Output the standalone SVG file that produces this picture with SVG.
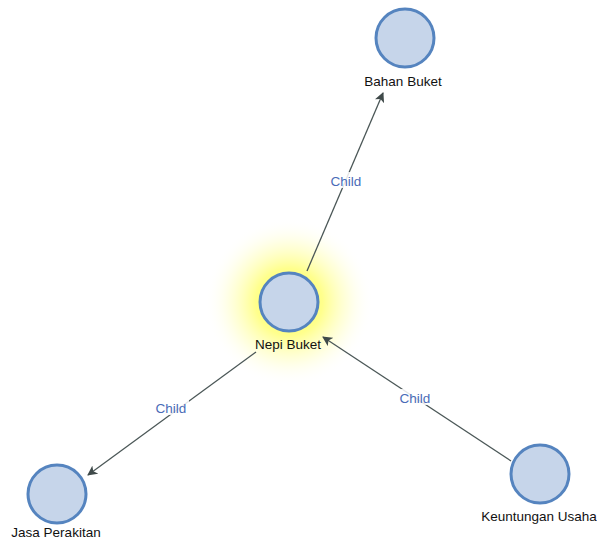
<svg xmlns="http://www.w3.org/2000/svg" width="597" height="540" viewBox="0 0 597 540">
<style>
.node circle{fill:#c6d5ea;stroke:#5584bf;stroke-width:3}
.lbl{font-family:"Liberation Sans",Arial,sans-serif;font-size:13.5px;fill:#111;text-anchor:middle}
.edge{stroke:#4b5757;stroke-width:1.3;fill:none;marker-end:url(#arr)}
.el{font-family:"Liberation Sans",Arial,sans-serif;font-size:13.5px;fill:#4a6cb8;text-anchor:middle}
</style>
<defs>
<marker id="arr" viewBox="0 0 10 10" refX="9" refY="5" markerWidth="10" markerHeight="10" markerUnits="userSpaceOnUse" orient="auto">
<path d="M0,0 L10,5 L0,10 L2.5,5 Z" fill="#3f4a4a"/>
</marker>
<radialGradient id="glow" cx="0.5" cy="0.5" r="0.5">
<stop offset="0" stop-color="#ffff50" stop-opacity="1"/>
<stop offset="0.4" stop-color="#ffff70" stop-opacity="0.8"/>
<stop offset="0.7" stop-color="#ffffb0" stop-opacity="0.4"/>
<stop offset="1" stop-color="#ffffff" stop-opacity="0"/>
</radialGradient>
</defs>
<rect width="597" height="540" fill="#fff"/>
<circle cx="289" cy="302" r="84" fill="url(#glow)"/>
<g id="connectors">
<line class="edge" x1="307" y1="271" x2="383" y2="93"/>
<line class="edge" x1="256" y1="352" x2="88" y2="475"/>
<line class="edge" x1="511" y1="461" x2="323" y2="337"/>
<rect x="328" y="172" width="36" height="16" fill="#fff" opacity="0.85"/>
<text class="el" x="346" y="186">Child</text>
<rect x="153" y="399" width="36" height="16" fill="#fff" opacity="0.85"/>
<text class="el" x="171" y="413">Child</text>
<rect x="397" y="389" width="36" height="16" fill="#fff" opacity="0.85"/>
<text class="el" x="415" y="403">Child</text>
</g>
<g id="nepi" class="node">
<circle cx="289" cy="302" r="29"/>
<text class="lbl" x="288" y="349">Nepi Buket</text>
</g>
<g id="bahan" class="node">
<circle cx="405" cy="38" r="29"/>
<text class="lbl" x="403" y="86">Bahan Buket</text>
</g>
<g id="jasa" class="node">
<circle cx="57" cy="494" r="29"/>
<text class="lbl" x="56" y="537">Jasa Perakitan</text>
</g>
<g id="keuntungan" class="node">
<circle cx="540" cy="474" r="29"/>
<text class="lbl" x="539" y="521">Keuntungan Usaha</text>
</g>
</svg>
